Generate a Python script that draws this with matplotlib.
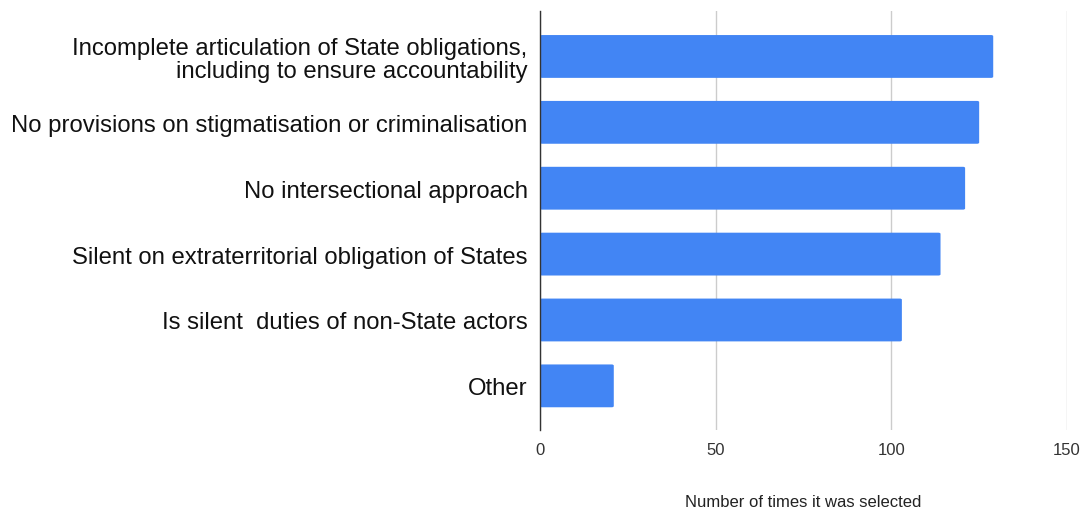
import matplotlib
matplotlib.use("Agg")
import matplotlib.pyplot as plt
from matplotlib.patches import FancyBboxPatch

categories = [
    "Incomplete articulation of State obligations,\nincluding to ensure accountability",
    "No provisions on stigmatisation or criminalisation",
    "No intersectional approach",
    "Silent on extraterritorial obligation of States",
    "Is silent  duties of non-State actors",
    "Other",
]
counts = [129, 125, 121, 114, 103, 21]
x_ticks = [0, 50, 100, 150]
x_label = "Number of times it was selected"

plt.rcParams["font.family"] = ["Liberation Sans", "DejaVu Sans"]

fig = plt.figure(figsize=(10.84, 5.10), dpi=100)
ax = fig.add_axes([540 / 1084, 1 - 431 / 510, (1067 - 540) / 1084, (431 - 12) / 510])

bar_h = 0.65
ypos = list(range(len(categories)))
bars = ax.barh(ypos, counts, height=bar_h, color="#4285F4", zorder=3)

# soften bar corners slightly
for rect in bars:
    x0, y0 = rect.get_x(), rect.get_y()
    w, h = rect.get_width(), rect.get_height()
    rect.set_visible(False)
    patch = FancyBboxPatch((x0, y0), w, h,
                           boxstyle="round,pad=0,rounding_size=0.6",
                           mutation_aspect=0.03,
                           facecolor="#4285F4", edgecolor="none", zorder=3)
    ax.add_patch(patch)

ax.set_xlim(0, 150)
ax.set_ylim(5.67, -0.69)
ax.set_xticks(x_ticks)
ax.set_yticks(ypos)
ax.set_yticklabels(categories, fontsize=17.2, color="#111111", linespacing=1.05)
ax.tick_params(axis="y", length=0, pad=9)
ax.tick_params(axis="x", length=0, pad=9, labelsize=12, labelcolor="#333333")

ax.grid(axis="x", color="#cccccc", linewidth=1.0, zorder=0)
for side in ["top", "right", "bottom"]:
    ax.spines[side].set_visible(False)
ax.spines["left"].set_color("#333333")
ax.spines["left"].set_linewidth(1.0)
ax.spines["left"].set_zorder(4)

ax.set_xlabel(x_label, fontsize=12, color="#222222", labelpad=26)

fig.savefig("out.png", dpi=100, facecolor="white")
